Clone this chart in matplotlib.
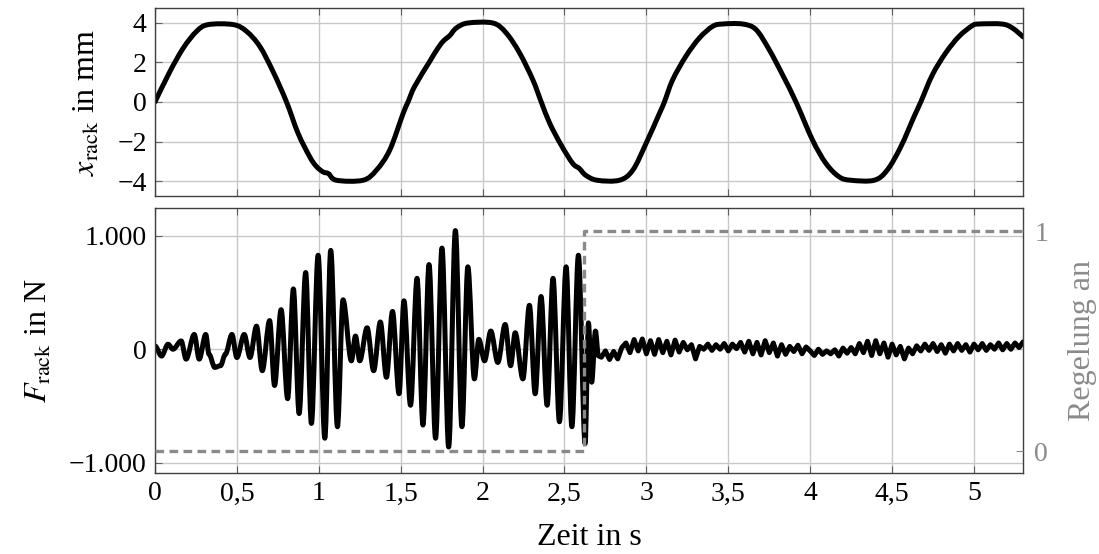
import numpy as np
import matplotlib
matplotlib.use('Agg')
import matplotlib.pyplot as plt
from matplotlib.ticker import FuncFormatter
from matplotlib.path import Path
from matplotlib.patches import PathPatch

plt.rcParams['font.family'] = ['Liberation Serif', 'DejaVu Serif']
plt.rcParams['mathtext.fontset'] = 'stix'
plt.rcParams['font.size'] = 20

# rack position (s, mm)
pos_t = [0.0, 0.091, 0.173, 0.254, 0.325, 0.478, 0.559, 0.64, 0.721, 0.803,
         0.874, 0.945, 0.985, 1.026, 1.06, 1.108, 1.27, 1.352, 1.433, 1.514,
         1.545, 1.585, 1.677, 1.72, 1.758, 1.80, 1.84, 1.91, 2.063, 2.144,
         2.226, 2.307, 2.358, 2.41, 2.48, 2.55, 2.59, 2.63, 2.70, 2.835,
         2.917, 2.998, 3.08, 3.11, 3.16, 3.24, 3.323, 3.404, 3.465, 3.587,
         3.669, 3.75, 3.831, 3.913, 4.014, 4.096, 4.177, 4.25, 4.39, 4.47,
         4.553, 4.634, 4.675, 4.746, 4.827, 4.909, 4.99, 5.03, 5.17, 5.234,
         5.30]
pos_x = [0.0, 1.53, 2.72, 3.56, 3.90, 3.90, 3.56, 2.80, 1.53, 0.0,
         -1.59, -2.77, -3.25, -3.53, -3.62, -3.95, -3.95, -3.44, -2.43, -0.6,
         0.0, 0.78, 2.04, 2.62, 3.05, 3.35, 3.73, 3.98, 3.98, 3.48,
         2.47, 1.11, 0.0, -1.08, -2.18, -3.10, -3.35, -3.70, -3.95, -3.95,
         -3.44, -2.09, -0.57, 0.0, 1.11, 2.29, 3.22, 3.81, 3.93, 3.93,
         3.65, 2.63, 1.37, 0.0, -1.92, -3.10, -3.78, -3.95, -3.95, -3.44,
         -2.26, -0.74, 0.0, 1.37, 2.47, 3.31, 3.85, 3.93, 3.93, 3.73,
         3.28]

# rack force before the controller is switched on: extremes (s, N)
force_t = [0.0, 0.04, 0.08, 0.11, 0.16, 0.19, 0.24, 0.27, 0.31, 0.33,
           0.365, 0.40, 0.43, 0.47, 0.50, 0.545, 0.58, 0.62, 0.655, 0.70,
           0.73, 0.77, 0.81, 0.845, 0.88, 0.92, 0.955, 0.996, 1.037, 1.073,
           1.114, 1.148, 1.199, 1.224, 1.25, 1.295, 1.335, 1.376, 1.413, 1.45,
           1.49, 1.52, 1.56, 1.60, 1.636, 1.673, 1.713, 1.752, 1.793, 1.834,
           1.874, 1.91, 1.95, 1.977, 2.012, 2.05, 2.093, 2.138, 2.171, 2.199,
           2.246, 2.286, 2.321, 2.357, 2.394, 2.43, 2.469, 2.51, 2.545, 2.585,
           2.626, 2.646, 2.666, 2.689, 2.707]
force_f = [29, -60, 44, 0, 73, -87, 130, -87, 130, -44,
           -160, -145, -44, 130, -73, 130, -73, 203, -189, 252,
           -319, 348, -435, 531, -566, 675, -653, 827, -783, 870,
           -682, 435, -102, 116, -102, 189, -189, 240, -247, 333,
           -392, 426, -493, 624, -667, 745, -783, 890, -860, 1044,
           -682, 725, -261, 87, -102, 160, -116, 218, -145, 145,
           -261, 387, -392, 464, -493, 624, -638, 725, -682, 827,
           -830, 232, -290, 160, -58]

# rack force with controller active, sampled every 25 ms from 2.725 s (N)
ctrl_force_start = 2.725
ctrl_force_dt = 0.025
ctrl_force = [-70, -15, -90, -20, -85, 15, 55, -30, 85, -15,
              90, -40, 75, -45, 85, -30, 70, -50, 80, -25,
              60, -5, 40, -85, 25, 0, 45, -10, 40, 0,
              50, -15, 45, 5, 60, -25, 70, -40, 60, -50,
              75, -30, 55, -60, 40, -45, 25, -20, 35, -40,
              20, -15, -55, 0, -45, -15, -40, -5, -60, 10,
              -35, 15, -40, 50, -30, 70, -55, 75, -40, 55,
              -70, 45, -50, 25, -85, 10, -40, 30, -15, 45,
              -10, 50, -20, 40, -35, 45, -15, 50, -10, 40,
              -25, 45, -5, 50, -10, 40, 0, 55, -5, 50,
              0, 55, 15, 65]

# controller state
ctrl_t = [0.0, 2.62, 2.62, 5.3]
ctrl_on = [0, 0, 1, 1]

x_ticks = [0, 0.5, 1, 1.5, 2, 2.5, 3, 3.5, 4, 4.5, 5]


def de_num(v, pos=None):
    s = f'{v:g}'.replace('.', ',')
    return s.replace('-', '\u2212')


def de_thousands(v, pos=None):
    s = f'{int(round(v)):,}'.replace(',', '.')
    return s.replace('-', '\u2212')


def swing_path(ext_t, ext_v, tail_t, tail_v):
    # smooth swings between successive extremes, then the sampled tail
    verts = [(ext_t[0], ext_v[0])]
    codes = [Path.MOVETO]
    for i in range(1, len(ext_t)):
        t0, t1 = ext_t[i - 1], ext_t[i]
        v0, v1 = ext_v[i - 1], ext_v[i]
        dt = t1 - t0
        verts += [(t0 + dt / 3, v0), (t1 - dt / 3, v1), (t1, v1)]
        codes += [Path.CURVE4] * 3
    for t, v in zip(tail_t, tail_v):
        verts.append((t, v))
        codes.append(Path.LINETO)
    return Path(verts, codes)


def smooth_path(ts, vs):
    # Catmull-Rom style Bezier through the given points
    p = np.column_stack([ts, vs])
    n = len(p)
    verts = [tuple(p[0])]
    codes = [Path.MOVETO]
    for i in range(n - 1):
        p_prev = p[max(i - 1, 0)]
        p_next2 = p[min(i + 2, n - 1)]
        c1 = p[i] + (p[i + 1] - p_prev) / 6
        c2 = p[i + 1] - (p_next2 - p[i]) / 6
        verts += [tuple(c1), tuple(c2), tuple(p[i + 1])]
        codes += [Path.CURVE4] * 3
    return Path(verts, codes)


fig = plt.figure(figsize=(10.99, 5.54), dpi=100)
ax1 = fig.add_axes([0.141, 0.646, 0.790, 0.340])
ax2 = fig.add_axes([0.141, 0.146, 0.790, 0.478])

LW = 3.6
LABEL_SIZE = 23

grid_kw = dict(color='#c8c8c8', linewidth=1.0)
for ax in (ax1, ax2):
    ax.set_xlim(0, 5.3)
    ax.set_xticks(x_ticks)
    ax.grid(True, **grid_kw)
    ax.set_axisbelow(True)
    for sp in ax.spines.values():
        sp.set_color('#404040')
        sp.set_linewidth(1.0)
    ax.tick_params(direction='in', length=5, width=0.8, color='#606060',
                   labelsize=20, pad=6)

# position
pos_line = PathPatch(smooth_path(pos_t, pos_x), fill=False, edgecolor='black',
                     lw=LW, joinstyle='round', capstyle='round')
ax1.add_patch(pos_line)
ax1.set_ylim(-4.75, 4.75)
ax1.set_yticks([-4, -2, 0, 2, 4])
ax1.yaxis.set_major_formatter(FuncFormatter(de_num))
ax1.tick_params(labelbottom=False, right=True, top=True)
ax1.set_ylabel(r'$x_{\mathrm{rack}}$ in mm', fontsize=LABEL_SIZE, labelpad=11)

# force
tail_t = [ctrl_force_start + i * ctrl_force_dt for i in range(len(ctrl_force))]
force_line = PathPatch(swing_path(force_t, force_f, tail_t, ctrl_force),
                       fill=False, edgecolor='black', lw=LW,
                       joinstyle='round', capstyle='round')
ax2.add_patch(force_line)
ax2.set_ylim(-1090, 1240)
ax2.set_yticks([-1000, 0, 1000])
ax2.yaxis.set_major_formatter(FuncFormatter(de_thousands))
ax2.xaxis.set_major_formatter(FuncFormatter(de_num))
ax2.tick_params(top=True)
ax2.set_ylabel(r'$F_{\mathrm{rack}}$ in N', fontsize=LABEL_SIZE, labelpad=11)
ax2.set_xlabel('Zeit in s', fontsize=LABEL_SIZE, labelpad=12)

# controller flag on a second axis
gray = '#8a8a8a'
ax3 = ax2.twinx()
ax3.plot(ctrl_t, ctrl_on, color=gray, lw=2.4, dashes=(2.6, 1.6))
ax3.set_ylim(-0.1, 1.105)
ax3.set_yticks([0, 1])
ax3.tick_params(direction='in', length=5, width=0.8, colors=gray,
                labelsize=20, pad=8)
for sp in ax3.spines.values():
    sp.set_visible(False)
ax3.set_ylabel('Regelung an', color=gray, fontsize=LABEL_SIZE, labelpad=14)

fig.savefig('out.png', dpi=100)
